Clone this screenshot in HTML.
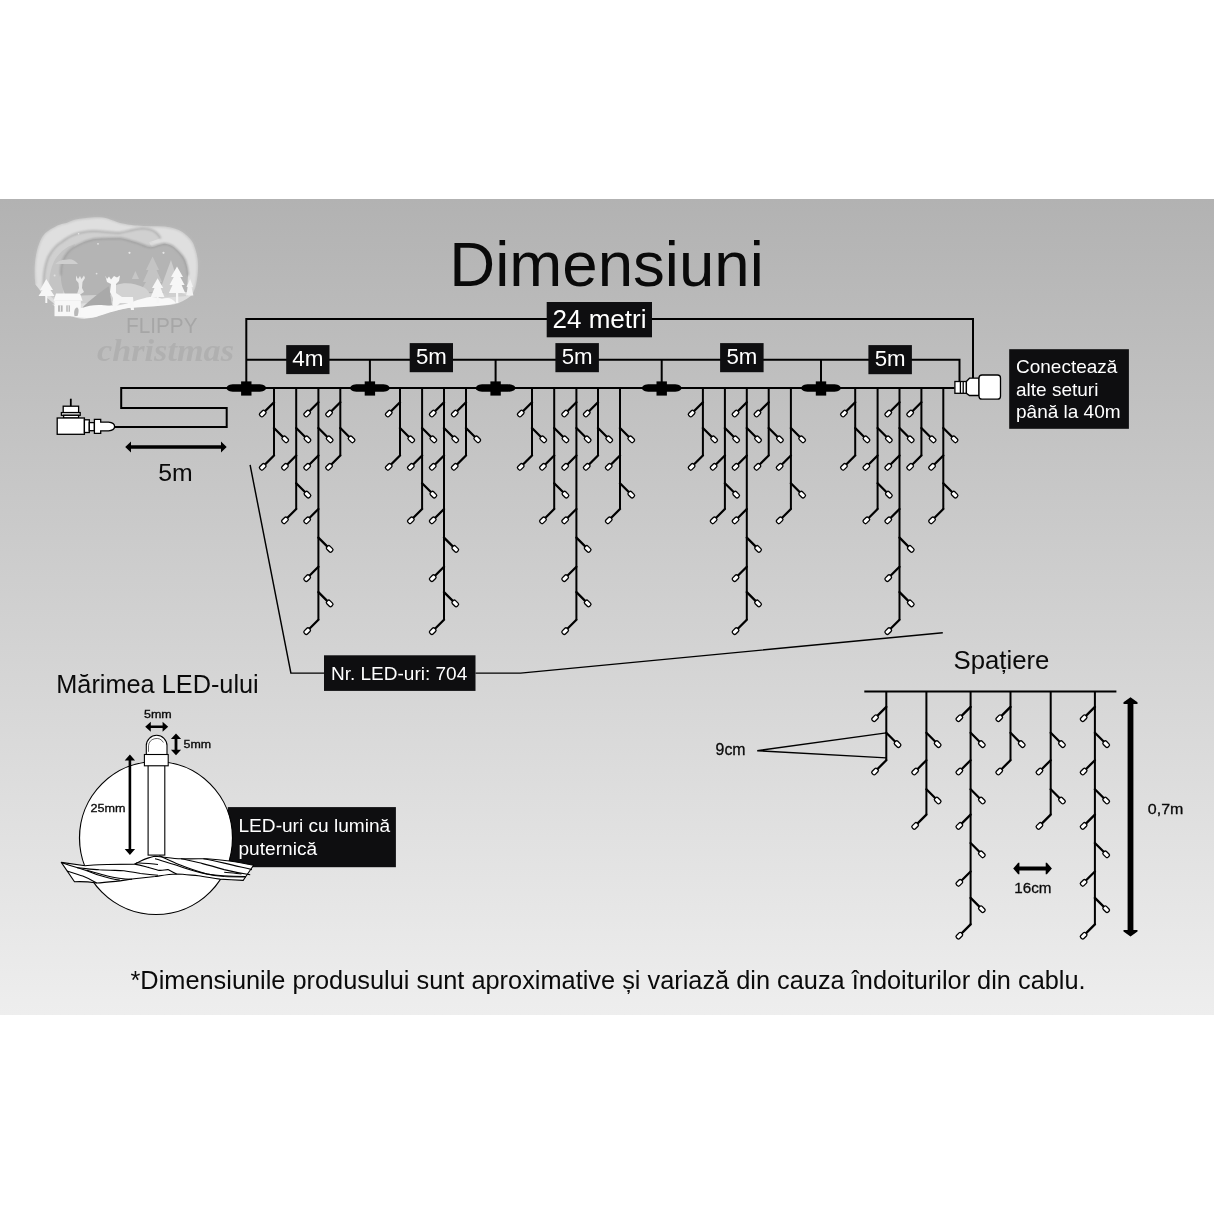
<!DOCTYPE html>
<html><head><meta charset="utf-8">
<style>
html,body{margin:0;padding:0;background:#fff;width:1214px;height:1214px;overflow:hidden}
svg{display:block;will-change:transform}
text{font-family:"Liberation Sans",sans-serif}
.w{fill:none;stroke:#000;stroke-width:2;stroke-linejoin:miter}
.led{fill:#fff;stroke:#000;stroke-width:1.3}
.t{stroke:#000;stroke-width:1.45;fill:none}
.box{fill:#0e0e10}
.wt{fill:#fff}
</style></head>
<body>
<svg width="1214" height="1214" viewBox="0 0 1214 1214">
<defs>
<linearGradient id="bg" x1="0" y1="0" x2="0" y2="1">
<stop offset="0" stop-color="#b2b2b2"/>
<stop offset="1" stop-color="#eeeeee"/>
</linearGradient>
</defs>
<rect x="0" y="0" width="1214" height="1214" fill="#fff"/>
<rect x="0" y="199" width="1214" height="816" fill="url(#bg)"/>

<!-- LOGO -->
<g id="logo">
<defs>
<filter id="sh" x="-20%" y="-20%" width="140%" height="140%"><feGaussianBlur stdDeviation="0.9"/></filter>
</defs>
<!-- outer layer -->
<path d="M35.4 284.5C33.5 270 35 254 39.1 243.7C42 236 45 233 48.1 231C55 226 60 224 66.3 222.9C73 220 78 218.5 84.4 218.3C92 217.2 97 217 102.5 217.4C108 218 112 220 120 222.9C128 224.5 132 225 137.2 225.6C146 226.2 155 226.4 164.4 226.5C172 227.5 178 229 182.5 231.9C188 236 191 239 193.4 243.7C196 250 197.5 256 197.9 261.9C198.5 270 197.5 278 196.1 284.5C195 290 193 293 191.6 295.4C185 300 180 303 173.4 304.4C165 305.5 155 306 146.3 306.3C138 307 132 307.5 128.1 308.1C120 309.5 115 311 110 311.7C103 314 98 317 84.4 319C76 318 70 316 66.3 314.4C60 310 56 306 52.7 302.6C46 297 42 294 39 289Z" fill="#dfdfdf"/>
<path d="M35.4 284.5C33.5 270 35 254 39.1 243.7C42 236 45 233 48.1 231C55 226 60 224 66.3 222.9C73 220 78 218.5 84.4 218.3C92 217.2 97 217 102.5 217.4C108 218 112 220 120 222.9C128 224.5 132 225 137.2 225.6C146 226.2 155 226.4 164.4 226.5C172 227.5 178 229 182.5 231.9C188 236 191 239 193.4 243.7C196 250 197.5 256 197.9 261.9C198.5 270 197.5 278 196.1 284.5C195 290 193 293 191.6 295.4" fill="none" stroke="#bdbdbd" stroke-width="1.4" filter="url(#sh)"/>
<!-- second layer (wave) -->
<path d="M43.6 290C43 275 45 265 48.1 257.3C52 250 56 245 61.7 241.9C68 237 74 234 79.9 232.8C85 231.5 89 231 93.4 231C102 231 110 233 120 232.8C128 231 135 229 141.7 228.3C147 228.5 152 229.5 155.3 231.9C158 234 159.5 236 160.8 238.3L150 241.9C160 245 172 250 178 252C184 256 187 265 188.5 280L188 296L60 305Z" fill="#d0d0d0"/>
<path d="M43.6 290C43 275 45 265 48.1 257.3C52 250 56 245 61.7 241.9C68 237 74 234 79.9 232.8C85 231.5 89 231 93.4 231C102 231 110 233 120 232.8C128 231 135 229 141.7 228.3C147 228.5 152 229.5 155.3 231.9C158 234 159.5 236 160.8 238.3" fill="none" stroke="#a6a6a6" stroke-width="1.5" filter="url(#sh)"/>
<!-- light inner band right -->
<path d="M149 241.9C160 244 172 247 180 252C186 258 189 268 189 280L186 295L175 290Z" fill="#dcdcdc"/>
<!-- middle band left -->
<path d="M50 295C48 280 50 268 56 258C62 250 68 246 75 244L65 275L62 300Z" fill="#c4c4c4"/>
<!-- sky -->
<path d="M60.8 275.4C60.5 268 62 262 64.4 257.3C68 251 71 248.5 75.3 246.4C81 243 87 240.5 93.4 239.2C100 238.5 110 238.3 120 238.3C126 239 132 241.5 137.2 242.8C142 244.5 146 247 150.8 247.3C155 247 160 244 164.4 243.7C170 244 175 247.5 178 251C181 254 183.5 257 185.2 260.9C187 266 188 270 188 275.4L187 292L66 296C62 288 61 282 60.8 275.4Z" fill="#b4b4b4"/>
<path d="M60.8 275.4C60.5 268 62 262 64.4 257.3C68 251 71 248.5 75.3 246.4C81 243 87 240.5 93.4 239.2C100 238.5 110 238.3 120 238.3C126 239 132 241.5 137.2 242.8C142 244.5 146 247 150.8 247.3C155 247 160 244 164.4 243.7C170 244 175 247.5 178 251C181 254 183.5 257 185.2 260.9C187 266 188 270 188 275.4" fill="none" stroke="#9a9a9a" stroke-width="1.6" filter="url(#sh)"/>
<!-- cloud & moon & stars -->
<path d="M55.4 264.1C58 261 62 259.5 66 259.8C70 258.5 75 259.5 78 264.1Z" fill="#cfcfcf"/>
<path d="M81 251A3.2 3.2 0 1 0 86 256.5A2.6 2.6 0 1 1 81 251Z" fill="#dadada"/>
<circle cx="98" cy="243.8" r="0.9" fill="#e4e4e4"/><circle cx="129.5" cy="252.8" r="1.1" fill="#e6e6e6"/><circle cx="163.5" cy="252.8" r="1.1" fill="#e6e6e6"/><circle cx="96.6" cy="273.6" r="0.9" fill="#e0e0e0"/><circle cx="54.6" cy="275.6" r="1" fill="#e0e0e0"/><circle cx="78.6" cy="233.8" r="0.8" fill="#e8e8e8"/>
<!-- distant trees -->
<path d="M135.4 270.9L131.8 279H139Z" fill="#c6c6c6"/>
<path d="M152.6 256.4L146 270H148.5L143 282H146L140 292H165L159 282H162L156.5 270H159Z" fill="#c4c4c4"/>
<path d="M171 260L160 290L168 296L178 282Z" fill="#cdcdcd"/>
<!-- hills -->
<path d="M82.6 307.2C90 300 100 292 108.9 286.3L112 305L85 310Z" fill="#a9a9a9"/>
<path d="M116 285C125 282 135 283 145 288C150 292 152 298 150 305L116 306Z" fill="#d2d2d2"/>
<!-- ground snow -->
<path d="M52 304C60 307 68 309 82 308C90 305 98 304 110 306C125 306 135 300 145 298C150 296 158 297 162 299C168 297 172 298 176 303C170 305.5 150 306.5 128 308C115 310.5 105 314 96 317C85 319.5 72 317 63 312Z" fill="#f8f8f8"/>
<!-- trees white -->
<path d="M46.3 279L40 290H42.5L38.5 296H54.5L50.5 290H53Z" fill="#f6f6f6"/><rect x="45.3" y="295" width="2" height="8" fill="#f6f6f6"/>
<path d="M157.6 278.2L152 288H154.5L150.8 297H164.4L160.7 288H163.2Z" fill="#f6f6f6"/><rect x="156.8" y="296" width="1.8" height="7" fill="#f6f6f6"/>
<path d="M177 266.4L171 277H173.8L169.5 285H172.5L168.9 293H185.2L181.6 285H184.6L180.3 277H183Z" fill="#f7f7f7"/><rect x="176" y="292" width="2.2" height="11" fill="#f7f7f7"/>
<path d="M190.2 279L186.5 287H188L186 295.4H193.4L191.5 287H193Z" fill="#f2f2f2"/>
<!-- house -->
<path d="M53.6 300.8L56 293.6H80L82.6 300.8Z" fill="#f8f8f8"/><rect x="54.5" y="300.8" width="26.3" height="15.4" fill="#f7f7f7"/>
<rect x="58.1" y="305.4" width="4.5" height="6.3" fill="#b4b4b4"/><rect x="66.3" y="305.4" width="3.6" height="6.3" fill="#b4b4b4"/>
<rect x="59.9" y="305.4" width="0.9" height="6.3" fill="#f7f7f7"/><rect x="67.7" y="305.4" width="0.9" height="6.3" fill="#f7f7f7"/>
<path d="M74.5 316C73.5 312 74.5 308 77 307.5C79 308 79 312 77.5 316Z" fill="#b8b8b8"/>
<!-- small deer -->
<path d="M76 275.5L78 279L80 276L81.5 279L84 275.5L85 278L82.5 282L82 288L84 292L81 294L77 294L79 288L78.5 283L76 280Z" fill="#e6e6e6"/>
<!-- big deer -->
<path d="M105.2 275.4L107 279L109 276.5L111 279.5L114 276L117 277.5L120 275.4L119 281L116 284L116 293L122 297L133 297L134 309.9L131 310L129.5 303L120 303L117 306L116 310L113 310L113 298L110 292L111 284L107 282Z" fill="#f6f6f6"/>
<!-- FLIPPY -->
<text x="126" y="332.5" font-size="21.5" textLength="71.5" lengthAdjust="spacingAndGlyphs" fill="#a6a6a6">FLIPPY</text>
<!-- christmas -->
<text x="97" y="360.5" font-size="31" font-weight="bold" font-style="italic" textLength="137" lengthAdjust="spacingAndGlyphs" fill="#b0b0b0" style="font-family:'Liberation Serif',serif">christmas</text>

</g>

<!-- TITLE -->
<text x="449.3" y="285.6" font-size="63.6" fill="#0a0a0a">Dimensiuni</text>

<!-- dimension lines -->
<path class="w" d="M246.3 388V319H973V378"/>
<path class="w" d="M246.3 359.7H959.5V381.5"/>
<path class="w" d="M369.9 359.7V388M495.6 359.7V388M661.7 359.7V388M821 359.7V388"/>
<!-- main line and cable -->
<path class="w" d="M954.5 388H121.2V408.1H226.7V427.1H114"/>

<!-- boxes -->
<rect class="box" x="546.7" y="302" width="105.3" height="35.3"/>
<text class="wt" x="552.5" y="328.4" font-size="26">24 metri</text>
<rect class="box" x="286.2" y="345.1" width="43.3" height="29.0"/>
<text class="wt" x="307.85" y="365.8" font-size="21.3" text-anchor="middle" textLength="31.2" lengthAdjust="spacingAndGlyphs">4m</text>
<rect class="box" x="409.7" y="343.1" width="43.3" height="29.1"/>
<text class="wt" x="431.35" y="363.8" font-size="21.3" text-anchor="middle" textLength="30.9" lengthAdjust="spacingAndGlyphs">5m</text>
<rect class="box" x="555.4" y="343.1" width="43.5" height="29.1"/>
<text class="wt" x="577.15" y="363.8" font-size="21.3" text-anchor="middle" textLength="30.9" lengthAdjust="spacingAndGlyphs">5m</text>
<rect class="box" x="720.1" y="343.1" width="43.5" height="29.1"/>
<text class="wt" x="741.85" y="363.8" font-size="21.3" text-anchor="middle" textLength="30.9" lengthAdjust="spacingAndGlyphs">5m</text>
<rect class="box" x="868.4" y="345.1" width="43.5" height="29.1"/>
<text class="wt" x="890.15" y="365.8" font-size="21.3" text-anchor="middle" textLength="30.9" lengthAdjust="spacingAndGlyphs">5m</text>

<path d="M226.30 388C227.30 384.6 231.30 384.2 236.30 384.2H256.30C261.30 384.2 265.30 384.6 266.30 388C265.30 391.4 261.30 391.8 256.30 391.8H236.30C231.30 391.8 227.30 391.4 226.30 388Z"/><rect x="241.10" y="381.4" width="10.4" height="14.2"/><path d="M349.90 388C350.90 384.6 354.90 384.2 359.90 384.2H379.90C384.90 384.2 388.90 384.6 389.90 388C388.90 391.4 384.90 391.8 379.90 391.8H359.90C354.90 391.8 350.90 391.4 349.90 388Z"/><rect x="364.70" y="381.4" width="10.4" height="14.2"/><path d="M475.60 388C476.60 384.6 480.60 384.2 485.60 384.2H505.60C510.60 384.2 514.60 384.6 515.60 388C514.60 391.4 510.60 391.8 505.60 391.8H485.60C480.60 391.8 476.60 391.4 475.60 388Z"/><rect x="490.40" y="381.4" width="10.4" height="14.2"/><path d="M641.70 388C642.70 384.6 646.70 384.2 651.70 384.2H671.70C676.70 384.2 680.70 384.6 681.70 388C680.70 391.4 676.70 391.8 671.70 391.8H651.70C646.70 391.8 642.70 391.4 641.70 388Z"/><rect x="656.50" y="381.4" width="10.4" height="14.2"/><path d="M801.00 388C802.00 384.6 806.00 384.2 811.00 384.2H831.00C836.00 384.2 840.00 384.6 841.00 388C840.00 391.4 836.00 391.8 831.00 391.8H811.00C806.00 391.8 802.00 391.4 801.00 388Z"/><rect x="815.80" y="381.4" width="10.4" height="14.2"/>

<path class="w" d="M274.00 388.00V455.50 M296.20 388.00V509.00 M318.40 388.00V619.80 M340.30 388.00V455.50 M400.00 388.00V455.50 M422.10 388.00V509.00 M444.00 388.00V619.80 M466.00 388.00V455.50 M532.00 388.00V455.50 M554.20 388.00V509.00 M576.40 388.00V619.80 M598.00 388.00V455.50 M620.00 388.00V509.00 M702.90 388.00V455.50 M724.90 388.00V509.00 M746.80 388.00V619.80 M768.70 388.00V455.50 M790.90 388.00V509.00 M855.20 388.00V455.50 M877.60 388.00V509.00 M899.50 388.00V619.80 M921.40 388.00V455.50 M943.30 388.00V509.00 M886.30 691.60V760.20 M926.40 691.60V814.60 M970.60 691.60V924.40 M1010.50 691.60V760.20 M1050.70 691.60V814.60 M1094.90 691.60V924.40"/>
<path class="w" style="stroke-width:2.3;stroke-linecap:round" d="M274.00 455.50l-11.00 11.00 M274.00 402.20l-11.00 11.00 M274.00 428.00l11.00 11.00 M296.20 509.00l-11.00 11.00 M296.20 428.00l11.00 11.00 M296.20 455.50l-11.00 11.00 M296.20 483.30l11.00 11.00 M318.40 619.80l-11.00 11.00 M318.40 402.20l-11.00 11.00 M318.40 428.00l11.00 11.00 M318.40 455.50l-11.00 11.00 M318.40 509.00l-11.00 11.00 M318.40 537.60l11.00 11.00 M318.40 566.80l-11.00 11.00 M318.40 592.10l11.00 11.00 M340.30 455.50l-11.00 11.00 M340.30 402.20l-11.00 11.00 M340.30 428.00l11.00 11.00 M400.00 455.50l-11.00 11.00 M400.00 402.20l-11.00 11.00 M400.00 428.00l11.00 11.00 M422.10 509.00l-11.00 11.00 M422.10 428.00l11.00 11.00 M422.10 455.50l-11.00 11.00 M422.10 483.30l11.00 11.00 M444.00 619.80l-11.00 11.00 M444.00 402.20l-11.00 11.00 M444.00 428.00l11.00 11.00 M444.00 455.50l-11.00 11.00 M444.00 509.00l-11.00 11.00 M444.00 537.60l11.00 11.00 M444.00 566.80l-11.00 11.00 M444.00 592.10l11.00 11.00 M466.00 455.50l-11.00 11.00 M466.00 402.20l-11.00 11.00 M466.00 428.00l11.00 11.00 M532.00 455.50l-11.00 11.00 M532.00 402.20l-11.00 11.00 M532.00 428.00l11.00 11.00 M554.20 509.00l-11.00 11.00 M554.20 428.00l11.00 11.00 M554.20 455.50l-11.00 11.00 M554.20 483.30l11.00 11.00 M576.40 619.80l-11.00 11.00 M576.40 402.20l-11.00 11.00 M576.40 428.00l11.00 11.00 M576.40 455.50l-11.00 11.00 M576.40 509.00l-11.00 11.00 M576.40 537.60l11.00 11.00 M576.40 566.80l-11.00 11.00 M576.40 592.10l11.00 11.00 M598.00 455.50l-11.00 11.00 M598.00 402.20l-11.00 11.00 M598.00 428.00l11.00 11.00 M620.00 509.00l-11.00 11.00 M620.00 428.00l11.00 11.00 M620.00 455.50l-11.00 11.00 M620.00 483.30l11.00 11.00 M702.90 455.50l-11.00 11.00 M702.90 402.20l-11.00 11.00 M702.90 428.00l11.00 11.00 M724.90 509.00l-11.00 11.00 M724.90 428.00l11.00 11.00 M724.90 455.50l-11.00 11.00 M724.90 483.30l11.00 11.00 M746.80 619.80l-11.00 11.00 M746.80 402.20l-11.00 11.00 M746.80 428.00l11.00 11.00 M746.80 455.50l-11.00 11.00 M746.80 509.00l-11.00 11.00 M746.80 537.60l11.00 11.00 M746.80 566.80l-11.00 11.00 M746.80 592.10l11.00 11.00 M768.70 455.50l-11.00 11.00 M768.70 402.20l-11.00 11.00 M768.70 428.00l11.00 11.00 M790.90 509.00l-11.00 11.00 M790.90 428.00l11.00 11.00 M790.90 455.50l-11.00 11.00 M790.90 483.30l11.00 11.00 M855.20 455.50l-11.00 11.00 M855.20 402.20l-11.00 11.00 M855.20 428.00l11.00 11.00 M877.60 509.00l-11.00 11.00 M877.60 428.00l11.00 11.00 M877.60 455.50l-11.00 11.00 M877.60 483.30l11.00 11.00 M899.50 619.80l-11.00 11.00 M899.50 402.20l-11.00 11.00 M899.50 428.00l11.00 11.00 M899.50 455.50l-11.00 11.00 M899.50 509.00l-11.00 11.00 M899.50 537.60l11.00 11.00 M899.50 566.80l-11.00 11.00 M899.50 592.10l11.00 11.00 M921.40 455.50l-11.00 11.00 M921.40 402.20l-11.00 11.00 M921.40 428.00l11.00 11.00 M943.30 509.00l-11.00 11.00 M943.30 428.00l11.00 11.00 M943.30 455.50l-11.00 11.00 M943.30 483.30l11.00 11.00 M886.30 760.20l-11.00 11.00 M886.30 706.90l-11.00 11.00 M886.30 732.80l11.00 11.00 M926.40 814.60l-11.00 11.00 M926.40 732.80l11.00 11.00 M926.40 760.20l-11.00 11.00 M926.40 789.20l11.00 11.00 M970.60 924.40l-11.00 11.00 M970.60 706.90l-11.00 11.00 M970.60 732.80l11.00 11.00 M970.60 760.20l-11.00 11.00 M970.60 789.20l11.00 11.00 M970.60 814.60l-11.00 11.00 M970.60 843.00l11.00 11.00 M970.60 871.50l-11.00 11.00 M970.60 897.90l11.00 11.00 M1010.50 760.20l-11.00 11.00 M1010.50 706.90l-11.00 11.00 M1010.50 732.80l11.00 11.00 M1050.70 814.60l-11.00 11.00 M1050.70 732.80l11.00 11.00 M1050.70 760.20l-11.00 11.00 M1050.70 789.20l11.00 11.00 M1094.90 924.40l-11.00 11.00 M1094.90 706.90l-11.00 11.00 M1094.90 732.80l11.00 11.00 M1094.90 760.20l-11.00 11.00 M1094.90 789.20l11.00 11.00 M1094.90 814.60l-11.00 11.00 M1094.90 843.00l11.00 11.00 M1094.90 871.50l-11.00 11.00 M1094.90 897.90l11.00 11.00"/>
<rect x="259.30" y="411.35" width="6.8" height="4.4" rx="1.6" transform="rotate(-45 262.70 413.50)" class="led"/>
<rect x="281.90" y="437.15" width="6.8" height="4.4" rx="1.6" transform="rotate(45 285.30 439.30)" class="led"/>
<rect x="259.30" y="464.65" width="6.8" height="4.4" rx="1.6" transform="rotate(-45 262.70 466.80)" class="led"/>
<rect x="304.10" y="437.15" width="6.8" height="4.4" rx="1.6" transform="rotate(45 307.50 439.30)" class="led"/>
<rect x="281.50" y="464.65" width="6.8" height="4.4" rx="1.6" transform="rotate(-45 284.90 466.80)" class="led"/>
<rect x="304.10" y="492.45" width="6.8" height="4.4" rx="1.6" transform="rotate(45 307.50 494.60)" class="led"/>
<rect x="281.50" y="518.15" width="6.8" height="4.4" rx="1.6" transform="rotate(-45 284.90 520.30)" class="led"/>
<rect x="303.70" y="411.35" width="6.8" height="4.4" rx="1.6" transform="rotate(-45 307.10 413.50)" class="led"/>
<rect x="326.30" y="437.15" width="6.8" height="4.4" rx="1.6" transform="rotate(45 329.70 439.30)" class="led"/>
<rect x="303.70" y="464.65" width="6.8" height="4.4" rx="1.6" transform="rotate(-45 307.10 466.80)" class="led"/>
<rect x="303.70" y="518.15" width="6.8" height="4.4" rx="1.6" transform="rotate(-45 307.10 520.30)" class="led"/>
<rect x="326.30" y="546.75" width="6.8" height="4.4" rx="1.6" transform="rotate(45 329.70 548.90)" class="led"/>
<rect x="303.70" y="575.95" width="6.8" height="4.4" rx="1.6" transform="rotate(-45 307.10 578.10)" class="led"/>
<rect x="326.30" y="601.25" width="6.8" height="4.4" rx="1.6" transform="rotate(45 329.70 603.40)" class="led"/>
<rect x="303.70" y="628.95" width="6.8" height="4.4" rx="1.6" transform="rotate(-45 307.10 631.10)" class="led"/>
<rect x="325.60" y="411.35" width="6.8" height="4.4" rx="1.6" transform="rotate(-45 329.00 413.50)" class="led"/>
<rect x="348.20" y="437.15" width="6.8" height="4.4" rx="1.6" transform="rotate(45 351.60 439.30)" class="led"/>
<rect x="325.60" y="464.65" width="6.8" height="4.4" rx="1.6" transform="rotate(-45 329.00 466.80)" class="led"/>
<rect x="385.30" y="411.35" width="6.8" height="4.4" rx="1.6" transform="rotate(-45 388.70 413.50)" class="led"/>
<rect x="407.90" y="437.15" width="6.8" height="4.4" rx="1.6" transform="rotate(45 411.30 439.30)" class="led"/>
<rect x="385.30" y="464.65" width="6.8" height="4.4" rx="1.6" transform="rotate(-45 388.70 466.80)" class="led"/>
<rect x="430.00" y="437.15" width="6.8" height="4.4" rx="1.6" transform="rotate(45 433.40 439.30)" class="led"/>
<rect x="407.40" y="464.65" width="6.8" height="4.4" rx="1.6" transform="rotate(-45 410.80 466.80)" class="led"/>
<rect x="430.00" y="492.45" width="6.8" height="4.4" rx="1.6" transform="rotate(45 433.40 494.60)" class="led"/>
<rect x="407.40" y="518.15" width="6.8" height="4.4" rx="1.6" transform="rotate(-45 410.80 520.30)" class="led"/>
<rect x="429.30" y="411.35" width="6.8" height="4.4" rx="1.6" transform="rotate(-45 432.70 413.50)" class="led"/>
<rect x="451.90" y="437.15" width="6.8" height="4.4" rx="1.6" transform="rotate(45 455.30 439.30)" class="led"/>
<rect x="429.30" y="464.65" width="6.8" height="4.4" rx="1.6" transform="rotate(-45 432.70 466.80)" class="led"/>
<rect x="429.30" y="518.15" width="6.8" height="4.4" rx="1.6" transform="rotate(-45 432.70 520.30)" class="led"/>
<rect x="451.90" y="546.75" width="6.8" height="4.4" rx="1.6" transform="rotate(45 455.30 548.90)" class="led"/>
<rect x="429.30" y="575.95" width="6.8" height="4.4" rx="1.6" transform="rotate(-45 432.70 578.10)" class="led"/>
<rect x="451.90" y="601.25" width="6.8" height="4.4" rx="1.6" transform="rotate(45 455.30 603.40)" class="led"/>
<rect x="429.30" y="628.95" width="6.8" height="4.4" rx="1.6" transform="rotate(-45 432.70 631.10)" class="led"/>
<rect x="451.30" y="411.35" width="6.8" height="4.4" rx="1.6" transform="rotate(-45 454.70 413.50)" class="led"/>
<rect x="473.90" y="437.15" width="6.8" height="4.4" rx="1.6" transform="rotate(45 477.30 439.30)" class="led"/>
<rect x="451.30" y="464.65" width="6.8" height="4.4" rx="1.6" transform="rotate(-45 454.70 466.80)" class="led"/>
<rect x="517.30" y="411.35" width="6.8" height="4.4" rx="1.6" transform="rotate(-45 520.70 413.50)" class="led"/>
<rect x="539.90" y="437.15" width="6.8" height="4.4" rx="1.6" transform="rotate(45 543.30 439.30)" class="led"/>
<rect x="517.30" y="464.65" width="6.8" height="4.4" rx="1.6" transform="rotate(-45 520.70 466.80)" class="led"/>
<rect x="562.10" y="437.15" width="6.8" height="4.4" rx="1.6" transform="rotate(45 565.50 439.30)" class="led"/>
<rect x="539.50" y="464.65" width="6.8" height="4.4" rx="1.6" transform="rotate(-45 542.90 466.80)" class="led"/>
<rect x="562.10" y="492.45" width="6.8" height="4.4" rx="1.6" transform="rotate(45 565.50 494.60)" class="led"/>
<rect x="539.50" y="518.15" width="6.8" height="4.4" rx="1.6" transform="rotate(-45 542.90 520.30)" class="led"/>
<rect x="561.70" y="411.35" width="6.8" height="4.4" rx="1.6" transform="rotate(-45 565.10 413.50)" class="led"/>
<rect x="584.30" y="437.15" width="6.8" height="4.4" rx="1.6" transform="rotate(45 587.70 439.30)" class="led"/>
<rect x="561.70" y="464.65" width="6.8" height="4.4" rx="1.6" transform="rotate(-45 565.10 466.80)" class="led"/>
<rect x="561.70" y="518.15" width="6.8" height="4.4" rx="1.6" transform="rotate(-45 565.10 520.30)" class="led"/>
<rect x="584.30" y="546.75" width="6.8" height="4.4" rx="1.6" transform="rotate(45 587.70 548.90)" class="led"/>
<rect x="561.70" y="575.95" width="6.8" height="4.4" rx="1.6" transform="rotate(-45 565.10 578.10)" class="led"/>
<rect x="584.30" y="601.25" width="6.8" height="4.4" rx="1.6" transform="rotate(45 587.70 603.40)" class="led"/>
<rect x="561.70" y="628.95" width="6.8" height="4.4" rx="1.6" transform="rotate(-45 565.10 631.10)" class="led"/>
<rect x="583.30" y="411.35" width="6.8" height="4.4" rx="1.6" transform="rotate(-45 586.70 413.50)" class="led"/>
<rect x="605.90" y="437.15" width="6.8" height="4.4" rx="1.6" transform="rotate(45 609.30 439.30)" class="led"/>
<rect x="583.30" y="464.65" width="6.8" height="4.4" rx="1.6" transform="rotate(-45 586.70 466.80)" class="led"/>
<rect x="627.90" y="437.15" width="6.8" height="4.4" rx="1.6" transform="rotate(45 631.30 439.30)" class="led"/>
<rect x="605.30" y="464.65" width="6.8" height="4.4" rx="1.6" transform="rotate(-45 608.70 466.80)" class="led"/>
<rect x="627.90" y="492.45" width="6.8" height="4.4" rx="1.6" transform="rotate(45 631.30 494.60)" class="led"/>
<rect x="605.30" y="518.15" width="6.8" height="4.4" rx="1.6" transform="rotate(-45 608.70 520.30)" class="led"/>
<rect x="688.20" y="411.35" width="6.8" height="4.4" rx="1.6" transform="rotate(-45 691.60 413.50)" class="led"/>
<rect x="710.80" y="437.15" width="6.8" height="4.4" rx="1.6" transform="rotate(45 714.20 439.30)" class="led"/>
<rect x="688.20" y="464.65" width="6.8" height="4.4" rx="1.6" transform="rotate(-45 691.60 466.80)" class="led"/>
<rect x="732.80" y="437.15" width="6.8" height="4.4" rx="1.6" transform="rotate(45 736.20 439.30)" class="led"/>
<rect x="710.20" y="464.65" width="6.8" height="4.4" rx="1.6" transform="rotate(-45 713.60 466.80)" class="led"/>
<rect x="732.80" y="492.45" width="6.8" height="4.4" rx="1.6" transform="rotate(45 736.20 494.60)" class="led"/>
<rect x="710.20" y="518.15" width="6.8" height="4.4" rx="1.6" transform="rotate(-45 713.60 520.30)" class="led"/>
<rect x="732.10" y="411.35" width="6.8" height="4.4" rx="1.6" transform="rotate(-45 735.50 413.50)" class="led"/>
<rect x="754.70" y="437.15" width="6.8" height="4.4" rx="1.6" transform="rotate(45 758.10 439.30)" class="led"/>
<rect x="732.10" y="464.65" width="6.8" height="4.4" rx="1.6" transform="rotate(-45 735.50 466.80)" class="led"/>
<rect x="732.10" y="518.15" width="6.8" height="4.4" rx="1.6" transform="rotate(-45 735.50 520.30)" class="led"/>
<rect x="754.70" y="546.75" width="6.8" height="4.4" rx="1.6" transform="rotate(45 758.10 548.90)" class="led"/>
<rect x="732.10" y="575.95" width="6.8" height="4.4" rx="1.6" transform="rotate(-45 735.50 578.10)" class="led"/>
<rect x="754.70" y="601.25" width="6.8" height="4.4" rx="1.6" transform="rotate(45 758.10 603.40)" class="led"/>
<rect x="732.10" y="628.95" width="6.8" height="4.4" rx="1.6" transform="rotate(-45 735.50 631.10)" class="led"/>
<rect x="754.00" y="411.35" width="6.8" height="4.4" rx="1.6" transform="rotate(-45 757.40 413.50)" class="led"/>
<rect x="776.60" y="437.15" width="6.8" height="4.4" rx="1.6" transform="rotate(45 780.00 439.30)" class="led"/>
<rect x="754.00" y="464.65" width="6.8" height="4.4" rx="1.6" transform="rotate(-45 757.40 466.80)" class="led"/>
<rect x="798.80" y="437.15" width="6.8" height="4.4" rx="1.6" transform="rotate(45 802.20 439.30)" class="led"/>
<rect x="776.20" y="464.65" width="6.8" height="4.4" rx="1.6" transform="rotate(-45 779.60 466.80)" class="led"/>
<rect x="798.80" y="492.45" width="6.8" height="4.4" rx="1.6" transform="rotate(45 802.20 494.60)" class="led"/>
<rect x="776.20" y="518.15" width="6.8" height="4.4" rx="1.6" transform="rotate(-45 779.60 520.30)" class="led"/>
<rect x="840.50" y="411.35" width="6.8" height="4.4" rx="1.6" transform="rotate(-45 843.90 413.50)" class="led"/>
<rect x="863.10" y="437.15" width="6.8" height="4.4" rx="1.6" transform="rotate(45 866.50 439.30)" class="led"/>
<rect x="840.50" y="464.65" width="6.8" height="4.4" rx="1.6" transform="rotate(-45 843.90 466.80)" class="led"/>
<rect x="885.50" y="437.15" width="6.8" height="4.4" rx="1.6" transform="rotate(45 888.90 439.30)" class="led"/>
<rect x="862.90" y="464.65" width="6.8" height="4.4" rx="1.6" transform="rotate(-45 866.30 466.80)" class="led"/>
<rect x="885.50" y="492.45" width="6.8" height="4.4" rx="1.6" transform="rotate(45 888.90 494.60)" class="led"/>
<rect x="862.90" y="518.15" width="6.8" height="4.4" rx="1.6" transform="rotate(-45 866.30 520.30)" class="led"/>
<rect x="884.80" y="411.35" width="6.8" height="4.4" rx="1.6" transform="rotate(-45 888.20 413.50)" class="led"/>
<rect x="907.40" y="437.15" width="6.8" height="4.4" rx="1.6" transform="rotate(45 910.80 439.30)" class="led"/>
<rect x="884.80" y="464.65" width="6.8" height="4.4" rx="1.6" transform="rotate(-45 888.20 466.80)" class="led"/>
<rect x="884.80" y="518.15" width="6.8" height="4.4" rx="1.6" transform="rotate(-45 888.20 520.30)" class="led"/>
<rect x="907.40" y="546.75" width="6.8" height="4.4" rx="1.6" transform="rotate(45 910.80 548.90)" class="led"/>
<rect x="884.80" y="575.95" width="6.8" height="4.4" rx="1.6" transform="rotate(-45 888.20 578.10)" class="led"/>
<rect x="907.40" y="601.25" width="6.8" height="4.4" rx="1.6" transform="rotate(45 910.80 603.40)" class="led"/>
<rect x="884.80" y="628.95" width="6.8" height="4.4" rx="1.6" transform="rotate(-45 888.20 631.10)" class="led"/>
<rect x="906.70" y="411.35" width="6.8" height="4.4" rx="1.6" transform="rotate(-45 910.10 413.50)" class="led"/>
<rect x="929.30" y="437.15" width="6.8" height="4.4" rx="1.6" transform="rotate(45 932.70 439.30)" class="led"/>
<rect x="906.70" y="464.65" width="6.8" height="4.4" rx="1.6" transform="rotate(-45 910.10 466.80)" class="led"/>
<rect x="951.20" y="437.15" width="6.8" height="4.4" rx="1.6" transform="rotate(45 954.60 439.30)" class="led"/>
<rect x="928.60" y="464.65" width="6.8" height="4.4" rx="1.6" transform="rotate(-45 932.00 466.80)" class="led"/>
<rect x="951.20" y="492.45" width="6.8" height="4.4" rx="1.6" transform="rotate(45 954.60 494.60)" class="led"/>
<rect x="928.60" y="518.15" width="6.8" height="4.4" rx="1.6" transform="rotate(-45 932.00 520.30)" class="led"/>
<rect x="871.60" y="716.05" width="6.8" height="4.4" rx="1.6" transform="rotate(-45 875.00 718.20)" class="led"/>
<rect x="894.20" y="741.95" width="6.8" height="4.4" rx="1.6" transform="rotate(45 897.60 744.10)" class="led"/>
<rect x="871.60" y="769.35" width="6.8" height="4.4" rx="1.6" transform="rotate(-45 875.00 771.50)" class="led"/>
<rect x="934.30" y="741.95" width="6.8" height="4.4" rx="1.6" transform="rotate(45 937.70 744.10)" class="led"/>
<rect x="911.70" y="769.35" width="6.8" height="4.4" rx="1.6" transform="rotate(-45 915.10 771.50)" class="led"/>
<rect x="934.30" y="798.35" width="6.8" height="4.4" rx="1.6" transform="rotate(45 937.70 800.50)" class="led"/>
<rect x="911.70" y="823.75" width="6.8" height="4.4" rx="1.6" transform="rotate(-45 915.10 825.90)" class="led"/>
<rect x="955.90" y="716.05" width="6.8" height="4.4" rx="1.6" transform="rotate(-45 959.30 718.20)" class="led"/>
<rect x="978.50" y="741.95" width="6.8" height="4.4" rx="1.6" transform="rotate(45 981.90 744.10)" class="led"/>
<rect x="955.90" y="769.35" width="6.8" height="4.4" rx="1.6" transform="rotate(-45 959.30 771.50)" class="led"/>
<rect x="978.50" y="798.35" width="6.8" height="4.4" rx="1.6" transform="rotate(45 981.90 800.50)" class="led"/>
<rect x="955.90" y="823.75" width="6.8" height="4.4" rx="1.6" transform="rotate(-45 959.30 825.90)" class="led"/>
<rect x="978.50" y="852.15" width="6.8" height="4.4" rx="1.6" transform="rotate(45 981.90 854.30)" class="led"/>
<rect x="955.90" y="880.65" width="6.8" height="4.4" rx="1.6" transform="rotate(-45 959.30 882.80)" class="led"/>
<rect x="978.50" y="907.05" width="6.8" height="4.4" rx="1.6" transform="rotate(45 981.90 909.20)" class="led"/>
<rect x="955.90" y="933.55" width="6.8" height="4.4" rx="1.6" transform="rotate(-45 959.30 935.70)" class="led"/>
<rect x="995.80" y="716.05" width="6.8" height="4.4" rx="1.6" transform="rotate(-45 999.20 718.20)" class="led"/>
<rect x="1018.40" y="741.95" width="6.8" height="4.4" rx="1.6" transform="rotate(45 1021.80 744.10)" class="led"/>
<rect x="995.80" y="769.35" width="6.8" height="4.4" rx="1.6" transform="rotate(-45 999.20 771.50)" class="led"/>
<rect x="1058.60" y="741.95" width="6.8" height="4.4" rx="1.6" transform="rotate(45 1062.00 744.10)" class="led"/>
<rect x="1036.00" y="769.35" width="6.8" height="4.4" rx="1.6" transform="rotate(-45 1039.40 771.50)" class="led"/>
<rect x="1058.60" y="798.35" width="6.8" height="4.4" rx="1.6" transform="rotate(45 1062.00 800.50)" class="led"/>
<rect x="1036.00" y="823.75" width="6.8" height="4.4" rx="1.6" transform="rotate(-45 1039.40 825.90)" class="led"/>
<rect x="1080.20" y="716.05" width="6.8" height="4.4" rx="1.6" transform="rotate(-45 1083.60 718.20)" class="led"/>
<rect x="1102.80" y="741.95" width="6.8" height="4.4" rx="1.6" transform="rotate(45 1106.20 744.10)" class="led"/>
<rect x="1080.20" y="769.35" width="6.8" height="4.4" rx="1.6" transform="rotate(-45 1083.60 771.50)" class="led"/>
<rect x="1102.80" y="798.35" width="6.8" height="4.4" rx="1.6" transform="rotate(45 1106.20 800.50)" class="led"/>
<rect x="1080.20" y="823.75" width="6.8" height="4.4" rx="1.6" transform="rotate(-45 1083.60 825.90)" class="led"/>
<rect x="1102.80" y="852.15" width="6.8" height="4.4" rx="1.6" transform="rotate(45 1106.20 854.30)" class="led"/>
<rect x="1080.20" y="880.65" width="6.8" height="4.4" rx="1.6" transform="rotate(-45 1083.60 882.80)" class="led"/>
<rect x="1102.80" y="907.05" width="6.8" height="4.4" rx="1.6" transform="rotate(45 1106.20 909.20)" class="led"/>
<rect x="1080.20" y="933.55" width="6.8" height="4.4" rx="1.6" transform="rotate(-45 1083.60 935.70)" class="led"/>

<!-- right plug -->
<g class="plug" fill="#fff" stroke="#000" stroke-width="1.3">
<rect x="954.9" y="381.5" width="11.5" height="11.8"/>
<path d="M960.4 381.5V393.3M963.2 381.5V393.3" />
<path d="M966.4 381.5L969.5 378.2H979V395.5H969.5L966.4 393.3Z"/>
<rect x="979" y="375" width="21.5" height="24.2" rx="3"/>
</g>

<rect class="box" x="1009.2" y="349.2" width="119.7" height="79.6"/>
<text class="wt" font-size="19"><tspan x="1016" y="373">Conectează</tspan><tspan x="1016" y="395.6">alte seturi</tspan><tspan x="1016" y="418.4">până la 40m</tspan></text>

<!-- power plug left -->
<g fill="#fff" stroke="#000" stroke-width="1.3">
<path d="M70.8 398.7V406.2" fill="none" stroke-width="1.8"/>
<rect x="63.2" y="406.2" width="15.4" height="6.4"/>
<rect x="61.4" y="412.6" width="18.8" height="2.7"/>
<rect x="63.6" y="415.3" width="15" height="2.7"/>
<rect x="57.2" y="418" width="27.2" height="16.3"/>
<rect x="84.4" y="419.8" width="4.9" height="12.7"/>
<rect x="89.3" y="422.6" width="5.1" height="8.1"/>
<path d="M94.4 419.3H100.7V422.2H108.5C112.5 422.6 114.6 424.2 114.6 426.5C114.6 428.8 112.5 430.4 108.5 430.8H100.7V433.4H94.4Z"/>
</g>
<!-- 5m arrow -->
<path d="M125.2 447L131 441.5V445.2H221V441.5L226.7 447L221 452.5V448.8H131V452.5Z" fill="#000"/>
<text x="158.2" y="481.4" font-size="24.8" fill="#0a0a0a">5m</text>

<!-- thin lines to LED count -->
<path class="t" d="M250.1 464.8L290.9 673.1H324M475.5 673.1H520.5L942.8 632.8"/>
<rect class="box" x="324" y="655.3" width="151.5" height="35.6"/>
<text class="wt" x="331" y="680" font-size="19">Nr. LED-uri: 704</text>

<!-- LED size -->
<text x="56.3" y="693.1" font-size="25.3" fill="#0a0a0a">Mărimea LED-ului</text>
<rect class="box" x="227.8" y="807.1" width="168.1" height="60.1"/>
<circle cx="156" cy="838" r="76.5" fill="#fff" stroke="#000" stroke-width="1.2"/>
<g fill="#fff" stroke="#000" stroke-width="1.1">
<rect x="148.1" y="765.3" width="16.7" height="89.8"/>
<path d="M146.3 754.5V745.6A10.35 10.35 0 0 1 167 745.6V754.5Z"/>
<rect x="144.4" y="754.5" width="23.8" height="11.3"/>
</g>
<path d="M148.5 751.8V745.8A8 8 0 0 1 163.4 742.5" fill="none" stroke="#000" stroke-width="0.6"/>
<!-- twisted cable -->
<g fill="#fff" stroke="#000" stroke-width="1.1" stroke-linejoin="round">
<path d="M61.3 862.4L85.2 865.7C95 865 100 864.6 107.4 864.5C120 864.3 128 864.2 134.6 864.1C138 862.5 143 859.5 148.6 857.9C152 857 153 856.4 155 856.2C165 857 172 858.5 181 858.8C190 858.9 198 858.8 206.9 858.8C215 859.3 222 860 229.4 861C238 862.3 246 863.8 253.6 865.3L245.8 876.5L243.2 880.4C235 880 228 879.6 219.9 879.1C212 878 205 876.5 198.3 875.7C190 875 183 874.2 176.6 874C168 874.3 162 875.5 155 876.5C150 877 143 877.8 136.3 878.5C128 879.6 122 880.7 115.7 881.4C108 882.2 102 882.8 96.7 883C90 882 82 881.3 74.5 881.8Z"/>
<path d="M61.3 862.4C70 865.5 75 867 77.8 867.8C88 871 94 873.5 99.2 875.2C108 878 114 879.5 119.8 880.1" fill="none"/>
<path d="M67 871C73 873 78 874.5 82.7 876C88 878 92 880.5 96.7 883" fill="none"/>
<path d="M77 867.8C85 868.5 92 869.3 99.2 869.8C108 870.2 116 870.4 123.9 870.7C130 871.5 135 872.5 140.4 873.5C147 874.3 152 874.8 158 875.2" fill="none"/>
<path d="M86.8 870.2C95 872.5 100 874.3 107.4 876C115 878 123 879 132.1 879.3" fill="none"/>
<path d="M134.6 864.1C140 865 144 866.2 148.6 867.4C152 868.5 155 869.3 158 870.2C162 871 165 869.5 168 869.6C172 871.5 174 872.8 176.6 874" fill="none"/>
<path d="M136.3 862.8C145 863.3 152 863.8 158 864.5" fill="none"/>
<path d="M159.3 855.8C167 859 174 862.5 181 865.3C190 869 198 871.5 206.9 874C220 876 235 876.3 245.8 876.5" fill="none"/>
<path d="M155 858.8C163 861 170 863.3 176.6 865.3C185 868.5 194 871 202.6 873.1C210 874.8 217 876 224.2 876.5C232 876.8 240 876.9 245.8 877" fill="none"/>
<path d="M181 858.8C188 860 195 861.8 202.6 863.6C210 865.5 217 867.5 224.2 869.6C234 872 242 873.5 250.2 874.8" fill="none"/>
<path d="M203.4 858.8C210 860 217 861.5 224.2 863.1C234 865.5 243 867.5 251.9 869.6" fill="none"/>
<path d="M224.2 872.2C230 872.8 236 873.3 241.5 874" fill="none"/>
</g>
<path d="M145.2 726.8L150.8 721.8V725.6H162.6V721.8L168.2 726.8L162.6 731.8V728H150.8V731.8Z" fill="#000"/>
<path d="M176 733.4L181.1 738.9H177.4V749.7H181.1L176 755.2L170.9 749.7H174.6V738.9H170.9Z" fill="#000"/>
<path d="M129.9 754.4L135.1 760.5H131.2V849H135.1L129.9 855.1L124.7 849H128.6V760.5H124.7Z" fill="#000"/>
<text x="144" y="717.8" font-size="10" textLength="27.8" lengthAdjust="spacingAndGlyphs" fill="#0a0a0a" stroke="#0a0a0a" stroke-width="0.3">5mm</text>
<text x="183.5" y="747.5" font-size="10" textLength="27.6" lengthAdjust="spacingAndGlyphs" fill="#0a0a0a" stroke="#0a0a0a" stroke-width="0.3">5mm</text>
<text x="90.6" y="812" font-size="11" textLength="35" lengthAdjust="spacingAndGlyphs" fill="#0a0a0a" stroke="#0a0a0a" stroke-width="0.3">25mm</text>

<text class="wt" font-size="19.1"><tspan x="238.5" y="832">LED-uri cu lumină</tspan><tspan x="238.5" y="854.5">puternică</tspan></text>

<!-- Spatiere -->
<text x="953.5" y="669" font-size="25.75" fill="#0a0a0a">Spațiere</text>
<path class="w" d="M864.3 691.6H1116.4"/>
<path class="t" d="M757.2 750.7L886.3 732.9M757.2 750.7L886.3 757.9"/>
<text x="715.6" y="754.6" font-size="16.5" textLength="30" lengthAdjust="spacingAndGlyphs" fill="#0a0a0a" stroke="#0a0a0a" stroke-width="0.3">9cm</text>
<path d="M1130.5 697.3L1137.5 702.2V703.9H1133.4V929.9H1137.5V931.6L1130.5 936.5L1123.5 931.6V929.9H1127.6V703.9H1123.5V702.2Z" fill="#000"/>
<text x="1147.8" y="814" font-size="14.6" textLength="35.6" lengthAdjust="spacingAndGlyphs" fill="#0a0a0a" stroke="#0a0a0a" stroke-width="0.3">0,7m</text>
<path d="M1013.2 868.5L1018.2 862.8H1019.4V866.4H1045.7V862.8H1046.9L1051.9 868.5L1046.9 874.2H1045.7V870.6H1019.4V874.2H1018.2Z" fill="#000"/>
<text x="1014.3" y="892.8" font-size="15.5" textLength="37.2" lengthAdjust="spacingAndGlyphs" fill="#0a0a0a" stroke="#0a0a0a" stroke-width="0.3">16cm</text>

<!-- footnote -->
<text x="130.5" y="989" font-size="25.35" fill="#0a0a0a">*Dimensiunile produsului sunt aproximative și variază din cauza îndoiturilor din cablu.</text>
</svg>
</body></html>
